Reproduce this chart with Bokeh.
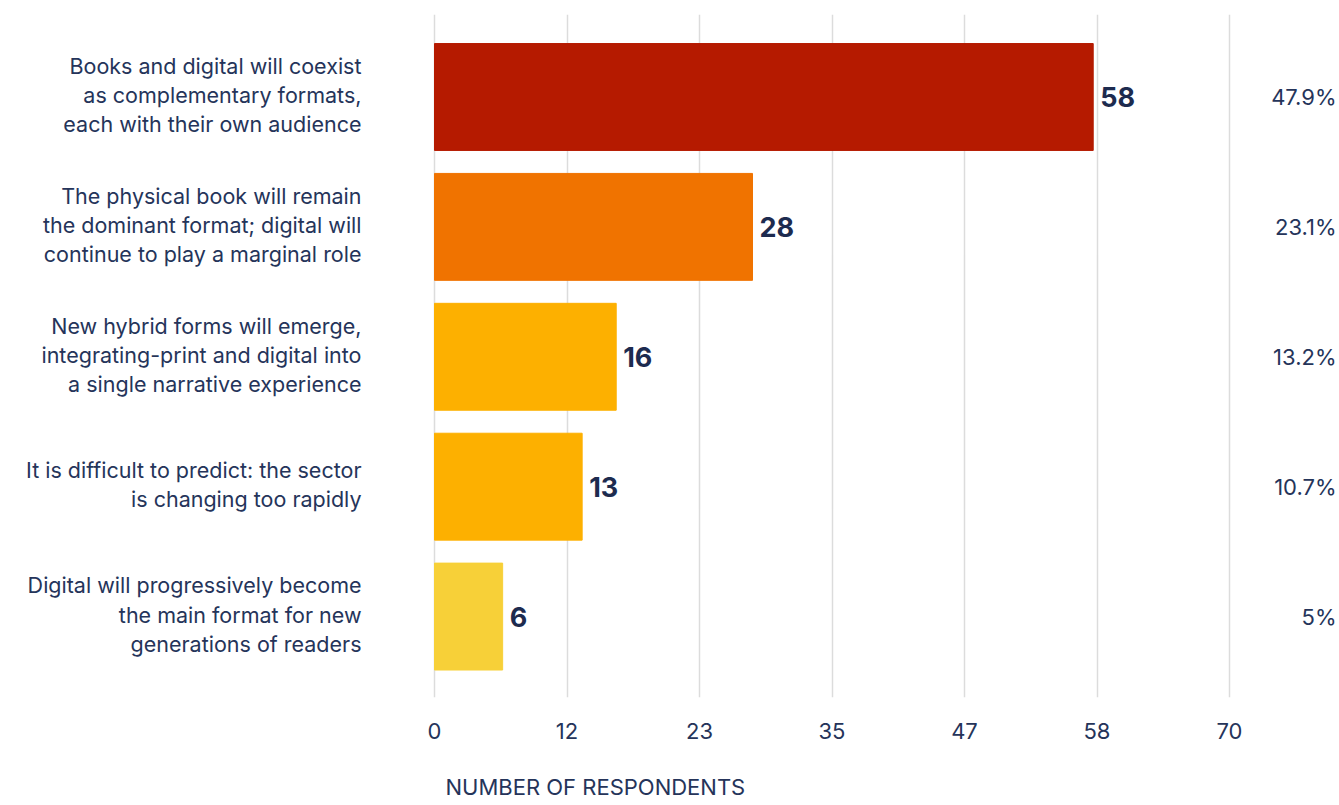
from bokeh.plotting import figure
from bokeh.models import Range1d, FixedTicker, Title, ColumnDataSource
from bokeh.core.properties import value
from bokeh.embed import file_html
from bokeh.resources import INLINE

categories = [
    "Books and digital will coexist\nas complementary formats,\neach with their own audience",
    "The physical book will remain\nthe dominant format; digital will\ncontinue to play a marginal role",
    "New hybrid forms will emerge,\nintegrating-print and digital into\na single narrative experience",
    "It is difficult to predict: the sector\nis changing too rapidly",
    "Digital will progressively become\nthe main format for new\ngenerations of readers",
]
counts = [58, 28, 16, 13, 6]
percents = ["47.9%", "23.1%", "13.2%", "10.7%", "5%"]
colors = ["#b51a00", "#f07300", "#fdb000", "#fdb000", "#f7d038"]
tick_values = [0, 70 / 6, 140 / 6, 35, 280 / 6, 350 / 6, 70]
tick_labels = ["0", "12", "23", "35", "47", "58", "70"]
axis_title = "NUMBER OF RESPONDENTS"

FONT = "Inter"
NAVY = "#25345a"

W, H = 1339, 805
PX = 795 / 70.0            # pixels per respondent
x_start = -434 / PX        # leave room at left for category labels
x_end = (W - 434) / PX     # room at right for percentages

idx = list(range(len(categories)))
src = ColumnDataSource(dict(y=idx, count=counts, color=colors,
                            label=[str(c) for c in counts],
                            cat=categories, pct=percents,
                            zero=[0] * len(counts), right=[x_end] * len(counts)))

p = figure(width=W, height=H, output_backend="svg", toolbar_location=None,
           x_range=Range1d(x_start, x_end), y_range=Range1d(4.623, -0.635),
           y_axis_location=None,
           min_border_left=0, min_border_right=0,
           min_border_top=14, min_border_bottom=108)
p.outline_line_color = None
p.background_fill_color = "white"
p.border_fill_color = "white"

p.xgrid.ticker = FixedTicker(ticks=tick_values)
p.xgrid.grid_line_color = "#dcdcdc"
p.xgrid.grid_line_width = 1.5
p.ygrid.visible = False

p.hbar(y="y", right="count", left=0, height=0.823, color="color", source=src)
p.text(x="count", y="y", text="label", source=src, x_offset=7,
       text_font=value(FONT), text_font_style="bold", text_font_size="27px",
       text_color="#1d2b4f", text_baseline="middle", text_align="left")
p.text(x="zero", y="y", text="cat", source=src, x_offset=-73, y_offset=-2,
       text_font=value(FONT), text_font_size="21.5px", text_line_height=1.12,
       text_color=NAVY, text_baseline="middle", text_align="right")
p.text(x="right", y="y", text="pct", source=src, x_offset=-3,
       text_font=value(FONT), text_font_size="22px",
       text_color=NAVY, text_baseline="middle", text_align="right")

ax = p.xaxis[0]
ax.ticker = FixedTicker(ticks=tick_values)
ax.bounds = (0, 70)
ax.major_label_overrides = {v: l for v, l in zip(tick_values, tick_labels)}
ax.axis_line_color = None
ax.major_tick_line_color = None
ax.minor_tick_line_color = None
ax.major_tick_in = 0
ax.major_tick_out = 0
ax.major_label_standoff = 25
ax.major_label_text_font = FONT
ax.major_label_text_font_size = "22px"
ax.major_label_text_color = NAVY
# blank axis label used only as a spacer above the title
ax.axis_label = "\u00a0"
ax.axis_label_standoff = 0
ax.axis_label_text_font_size = "24px"

p.add_layout(Title(text=axis_title, align="left", offset=445, standoff=0,
                   text_font=FONT, text_font_size="22px",
                   text_font_style="normal", text_color=NAVY), "below")

open("out.html", "w").write(file_html(p, INLINE))
